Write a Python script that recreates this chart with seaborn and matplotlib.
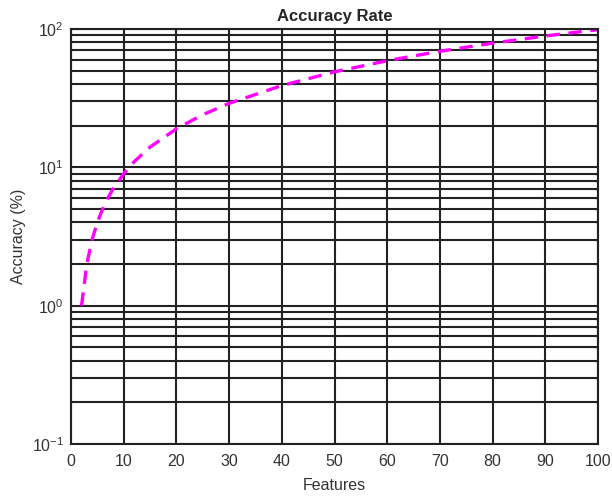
import matplotlib
matplotlib.use("Agg")
import matplotlib.pyplot as plt
import pandas as pd
import seaborn as sns
from matplotlib.ticker import LogLocator, FixedLocator

# values
features = [2, 3, 4, 5, 6, 7, 8, 10, 12, 15, 20, 25, 30, 40, 50, 60, 70, 80, 90, 100]
accuracy = [1, 2, 3, 4, 5, 6, 7, 9, 11, 14, 19, 24, 29, 39, 49, 59, 69, 79, 89, 99]
x_ticks = [0, 10, 20, 30, 40, 50, 60, 70, 80, 90, 100]

sns.set_theme(style="white")
plt.rcParams["font.family"] = ["Liberation Sans", "DejaVu Sans"]
plt.rcParams["font.size"] = 11.5
plt.rcParams["axes.unicode_minus"] = False
plt.rcParams["mathtext.fontset"] = "custom"
plt.rcParams["mathtext.rm"] = "Liberation Sans"

df = pd.DataFrame({"Features": features, "Accuracy": accuracy})

fig = plt.figure(figsize=(6.12, 4.97), dpi=100)
ax = fig.add_axes([71 / 612, 1 - 444 / 497, 527 / 612, 415 / 497])

sns.lineplot(
    data=df, x="Features", y="Accuracy", ax=ax,
    color="#ff00ff", lw=2.4, linestyle=(0, (4, 2.6)),
)

ax.set_yscale("log")
ax.set_xlim(0, 100)
ax.set_ylim(0.1, 100)
ax.xaxis.set_major_locator(FixedLocator(x_ticks))
ax.yaxis.set_major_locator(LogLocator(base=10, numticks=10))
ax.yaxis.set_minor_locator(LogLocator(base=10, subs=range(2, 10), numticks=20))

ax.grid(which="major", color="#222222", lw=1.5, linestyle="-")
ax.grid(which="minor", axis="y", color="#222222", lw=1.5, linestyle="-")
ax.set_axisbelow(True)

for side in ax.spines.values():
    side.set_color("#222222")
    side.set_linewidth(1.5)

ax.tick_params(axis="both", which="both", direction="in", colors="#222222",
               labelcolor="#333333", labelsize=11.5)
ax.tick_params(which="major", length=4, top=True, right=True)
ax.tick_params(which="minor", length=2, right=True)
ax.tick_params(axis="x", pad=7)
ax.tick_params(axis="y", pad=5)

ax.set_title("Accuracy Rate", fontsize=12, fontweight="bold", pad=6)
ax.set_xlabel("Features", fontsize=11.5, color="#333333", labelpad=7)
ax.set_ylabel("Accuracy (%)", fontsize=11.5, color="#333333", labelpad=4)

fig.savefig("out.png", dpi=100)
